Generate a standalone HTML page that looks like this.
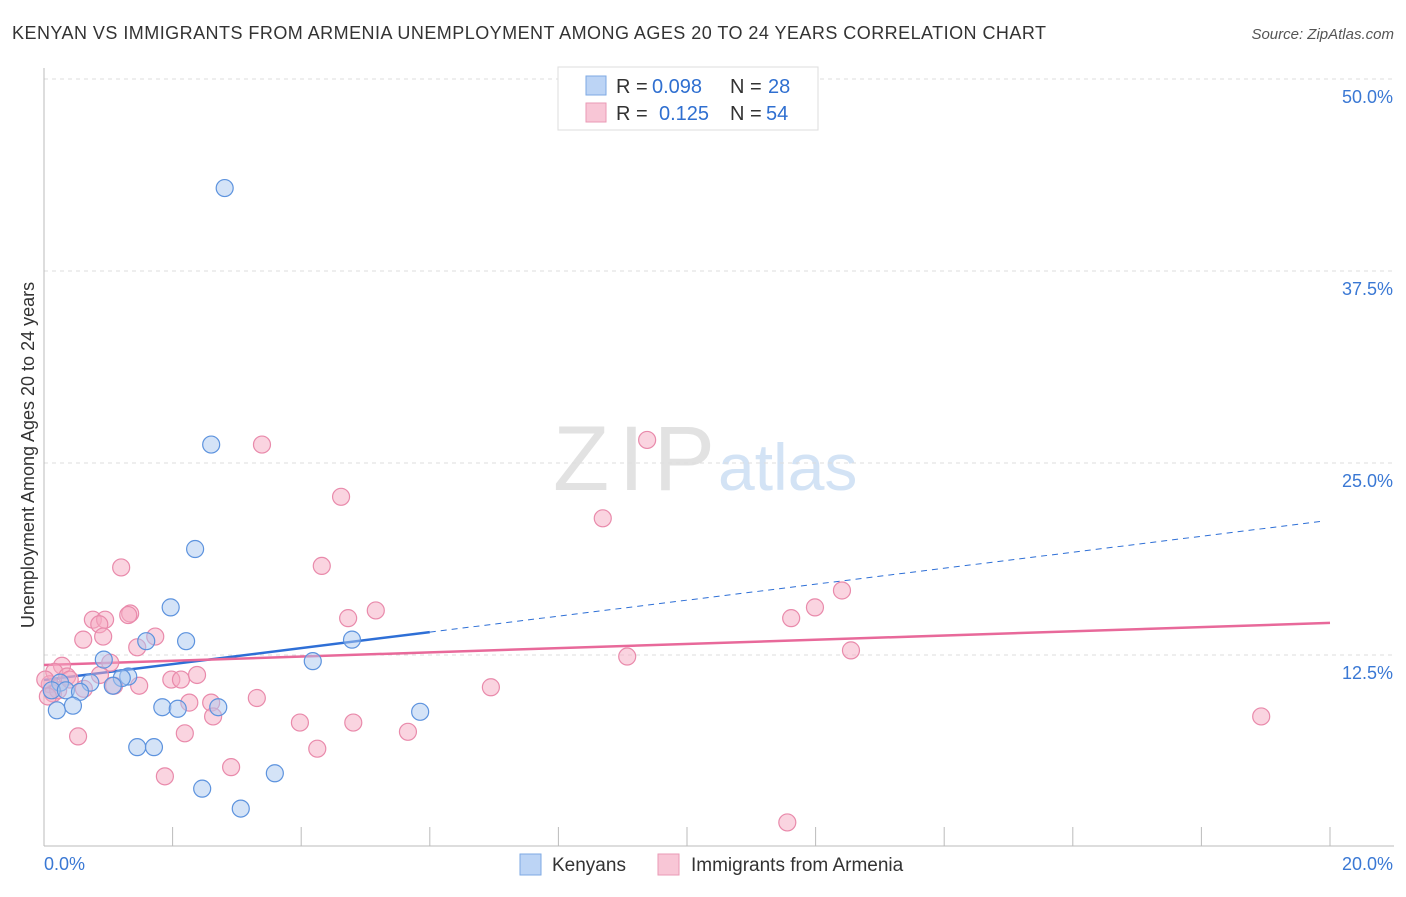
<!DOCTYPE html>
<html><head><meta charset="utf-8"><style>
body{margin:0;background:#fff;font-family:"Liberation Sans",sans-serif;}
svg text{font-family:"Liberation Sans",sans-serif;}
</style></head><body>
<svg id="chart" width="1406" height="892">
<text x="12" y="39" font-size="18" fill="#333" textLength="1034">KENYAN VS IMMIGRANTS FROM ARMENIA UNEMPLOYMENT AMONG AGES 20 TO 24 YEARS CORRELATION CHART</text>
<text x="1394" y="39" font-size="15" fill="#555" text-anchor="end" font-style="italic">Source: ZipAtlas.com</text>
<text x="553" y="490" font-size="92" fill="#e2e2e2" textLength="162" font-family="Liberation Serif">ZIP</text>
<text x="718" y="490" font-size="66" fill="#d3e3f5">atlas</text>
<g id="grid"></g>
<g id="axes"></g>
<g id="lines"></g>
<g id="pts"></g>
<text transform="translate(34,455) rotate(-90)" font-size="18" fill="#333" text-anchor="middle">Unemployment Among Ages 20 to 24 years</text>
<g>
<rect x="558" y="67" width="260" height="63" fill="#fff" stroke="#ddd"/>
<rect x="586" y="76" width="20" height="19" fill="#bcd4f5" stroke="#7ea9e3"/>
<text x="616" y="93" font-size="20" fill="#333">R =</text>
<text x="652" y="93" font-size="20" fill="#2f6fd0">0.098</text>
<text x="730" y="93" font-size="20" fill="#333">N =</text>
<text x="768" y="93" font-size="20" fill="#2f6fd0">28</text>
<rect x="586" y="103" width="20" height="19" fill="#f8c6d6" stroke="#ea9ab5"/>
<text x="616" y="120" font-size="20" fill="#333">R =</text>
<text x="659" y="120" font-size="20" fill="#2f6fd0">0.125</text>
<text x="730" y="120" font-size="20" fill="#333">N =</text>
<text x="766" y="120" font-size="20" fill="#2f6fd0">54</text>
</g>
<g>
<rect x="520" y="854" width="21" height="21" fill="#bcd4f5" stroke="#7ea9e3"/>
<text x="552" y="871" font-size="19" fill="#333">Kenyans</text>
<rect x="658" y="854" width="21" height="21" fill="#f8c6d6" stroke="#ea9ab5"/>
<text x="691" y="871" font-size="19" fill="#333">Immigrants from Armenia</text>
</g>
</svg>
<script>
const blueX=[2.81,2.60,2.35,1.97,1.59,2.21,4.79,4.18,0.93,1.31,1.21,1.07,0.72,0.25,0.12,0.34,0.56,0.20,0.45,1.84,2.08,2.71,5.85,1.45,1.71,3.59,2.46,3.06];
const blueY=[42.9,26.2,19.4,15.6,13.4,13.4,13.5,12.1,12.2,11.1,11.0,10.5,10.7,10.7,10.2,10.2,10.1,8.9,9.2,9.1,9.0,9.1,8.8,6.5,6.5,4.8,3.8,2.5];
const pinkX=[3.39,9.38,4.62,8.69,1.20,4.32,12.41,11.99,5.16,1.34,1.31,0.76,0.95,11.62,4.73,0.86,1.73,0.61,0.92,1.45,12.55,9.07,0.28,1.03,0.16,0.36,1.98,2.13,2.38,0.09,0.62,1.48,1.09,6.95,0.14,3.31,2.26,2.60,2.63,3.98,4.81,18.93,5.66,0.53,2.19,4.25,2.91,1.88,11.56,0.22,0.40,0.02,0.06,0.87];
const pinkY=[26.2,26.5,22.8,21.4,18.2,18.3,16.7,15.6,15.4,15.2,15.1,14.8,14.8,14.9,14.9,14.5,13.7,13.5,13.7,13.0,12.8,12.4,11.8,12.0,11.4,11.1,10.9,10.9,11.2,10.6,10.3,10.5,10.5,10.4,10.0,9.7,9.4,9.4,8.5,8.1,8.1,8.5,7.5,7.2,7.4,6.4,5.2,4.6,1.6,10.2,10.9,10.9,9.8,11.2];
const blueTrend=[10.87,0.52];
const pinkTrend=[11.85,0.137];
const yTicks=[12.5,25,37.5,50];
const xTickVals=[2,4,6,8,10,12,14,16,18,20];
const NS='http://www.w3.org/2000/svg';
const sx=v=>44+v/20*1286, sy=v=>847-v*15.36;
function mk(p,t,a){const e=document.createElementNS(NS,t);for(const k in a)e.setAttribute(k,a[k]);p.appendChild(e);return e;}
const grid=document.getElementById('grid'),axes=document.getElementById('axes'),lines=document.getElementById('lines'),pts=document.getElementById('pts');
yTicks.forEach(v=>{
 const l=mk(grid,'line',{x1:44,x2:1394,y1:sy(v),y2:sy(v),stroke:'#ddd','stroke-dasharray':'4,4'});
 
 
 const t=mk(axes,'text',{x:1393,y:sy(v)+24,'font-size':18,fill:'#3a78d4','text-anchor':'end'});t.textContent=v.toFixed(1)+'%';
 
 
});
const ax=mk(axes,'line',{x1:44,x2:1394,y1:846,y2:846,stroke:'#bbb'});


const ay=mk(axes,'line',{x1:44,x2:44,y1:68,y2:846,stroke:'#bbb'});


xTickVals.forEach(v=>{const l=mk(axes,'line',{x1:sx(v),x2:sx(v),y1:827,y2:846,stroke:'#bbb'});
 
 });
let t0=mk(axes,'text',{x:44,y:870,'font-size':18,fill:'#3a78d4'});t0.textContent='0.0%';


let t1=mk(axes,'text',{x:1393,y:870,'font-size':18,fill:'#3a78d4','text-anchor':'end'});t1.textContent='20.0%';


function drawPts(X,Y,fill,stroke,name){X.forEach((x,i)=>{const c=mk(pts,'circle',{cx:sx(x),cy:sy(Y[i]),r:8.5,fill:fill,'fill-opacity':0.5,stroke:stroke,'stroke-width':1.2});
 
 });}
drawPts(pinkX,pinkY,'#f5a9c1','#e98aab','point-armenia');
drawPts(blueX,blueY,'#a9c8f0','#5d93de','point-kenyan');
const bl=mk(lines,'line',{x1:sx(0),y1:sy(blueTrend[0]),x2:sx(6),y2:sy(blueTrend[0]+6*blueTrend[1]),stroke:'#2e6fd6','stroke-width':2.5});


const bd=mk(lines,'line',{x1:sx(6),y1:sy(blueTrend[0]+6*blueTrend[1]),x2:sx(19.92),y2:sy(blueTrend[0]+19.92*blueTrend[1]),stroke:'#2e6fd6','stroke-width':1,'stroke-dasharray':'6,5'});


const pl=mk(lines,'line',{x1:sx(0),y1:sy(pinkTrend[0]),x2:sx(20),y2:sy(pinkTrend[0]+20*pinkTrend[1]),stroke:'#e8699a','stroke-width':2.5});


</script>
</body></html>
